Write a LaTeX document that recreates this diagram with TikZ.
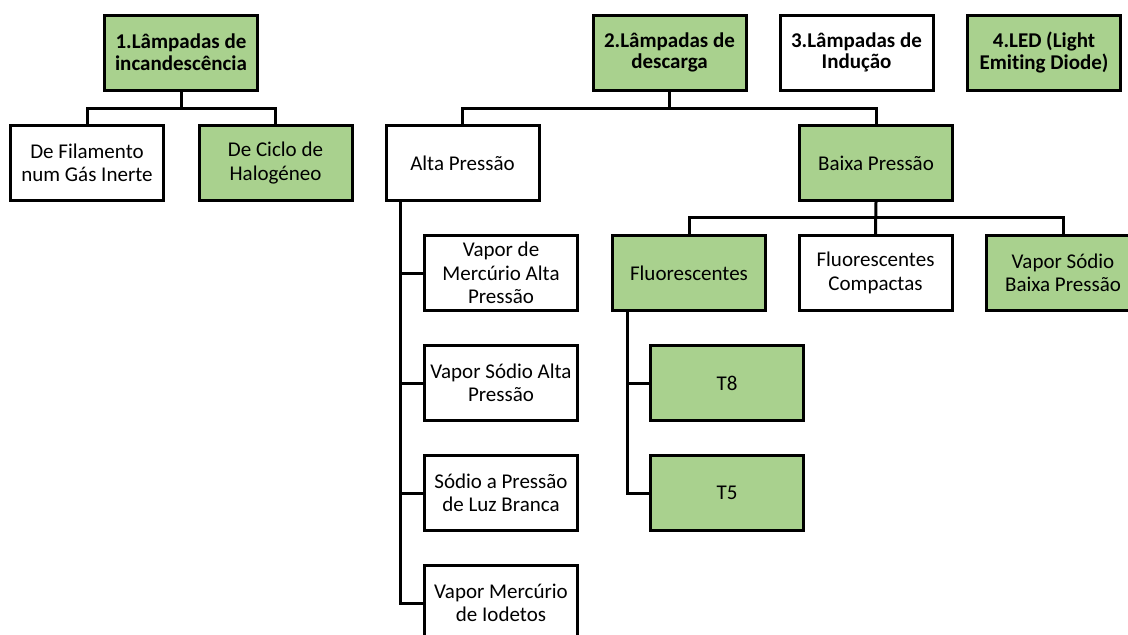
\documentclass[tikz,border=0pt]{standalone}
\usepackage{fontspec}
\setmainfont{Carlito}[Ligatures=NoCommon]
\definecolor{leaf}{HTML}{A9D18E}
\begin{document}
\begin{tikzpicture}[x=1pt,y=-1pt,
  box/.style={draw=black, line width=3pt, fill=white, minimum width=153pt,
    minimum height=75pt, inner sep=2pt, align=center,
    font=\fontsize{21}{23.3}\selectfont},
  head/.style={box, font=\fontsize{21}{21.7}\selectfont\bfseries},
  green/.style={fill=leaf},
  link/.style={line width=3pt, line join=miter}]
\clip (0,0) rectangle (1128,635);
\fill[white] (0,0) rectangle (1128,635);

% top-level categories
\node[head,green] (b1) at (181,52.5) {1.Lâmpadas de\\incandescência};
\node[head,green] (b2) at (669.5,52.5) {2.Lâmpadas de\\descarga};
\node[head] (b3) at (856.5,52.5) {3.Lâmpadas de\\Indução};
\node[head,green] (b4) at (1044,52.5) {4.LED (Light\\Emiting Diode)};

% incandescent lamps
\node[box] (fil) at (87,163) {De Filamento\\num Gás Inerte};
\node[box,green] (hal) at (275.5,163) {De Ciclo de\\Halogéneo};

% discharge lamps
\node[box] (alta) at (462.5,163) {Alta Pressão};
\node[box,green] (baixa) at (876,163) {Baixa Pressão};

% high pressure types
\node[box] (v1) at (501,273) {Vapor de\\Mercúrio Alta\\Pressão};
\node[box] (v2) at (501,383) {Vapor Sódio Alta\\Pressão};
\node[box] (v3) at (501,493) {Sódio a Pressão\\de Luz Branca};
\node[box] (v4) at (501,603) {Vapor Mercúrio\\de Iodetos};

% low pressure types
\node[box,green] (flu) at (689,273) {Fluorescentes};
\node[box] (fc) at (875.5,273) {Fluorescentes\\Compactas};
\node[box,green] (vsb) at (1063,273) {Vapor Sódio\\Baixa Pressão};

% fluorescent tubes
\node[box,green] (t8) at (727,383) {T8};
\node[box,green] (t5) at (727,493) {T5};

% bus lines and spines
\coordinate (bus1) at (0,108);
\coordinate (bus3) at (0,217);
\coordinate (spineA) at (400,0);
\coordinate (spineF) at (627,0);

\draw[link] (b1.south) -- (b1.south |- bus1);
\draw[link] (fil.north) -- (fil.north |- bus1) -- (hal.north |- bus1) -- (hal.north);

\draw[link] (b2.south) -- (b2.south |- bus1);
\draw[link] (alta.north) -- (alta.north |- bus1) -- (baixa.north |- bus1) -- (baixa.north);

\draw[link] (baixa.south) -- (fc.north);
\draw[link] (flu.north) -- (flu.north |- bus3) -- (vsb.north |- bus3) -- (vsb.north);

\draw[link] (spineA |- alta.south) -- (spineA |- v4.west) -- (v4.west);
\draw[link] (spineA |- v1.west) -- (v1.west);
\draw[link] (spineA |- v2.west) -- (v2.west);
\draw[link] (spineA |- v3.west) -- (v3.west);

\draw[link] (spineF |- flu.south) -- (spineF |- t5.west) -- (t5.west);
\draw[link] (spineF |- t8.west) -- (t8.west);
\end{tikzpicture}
\end{document}
